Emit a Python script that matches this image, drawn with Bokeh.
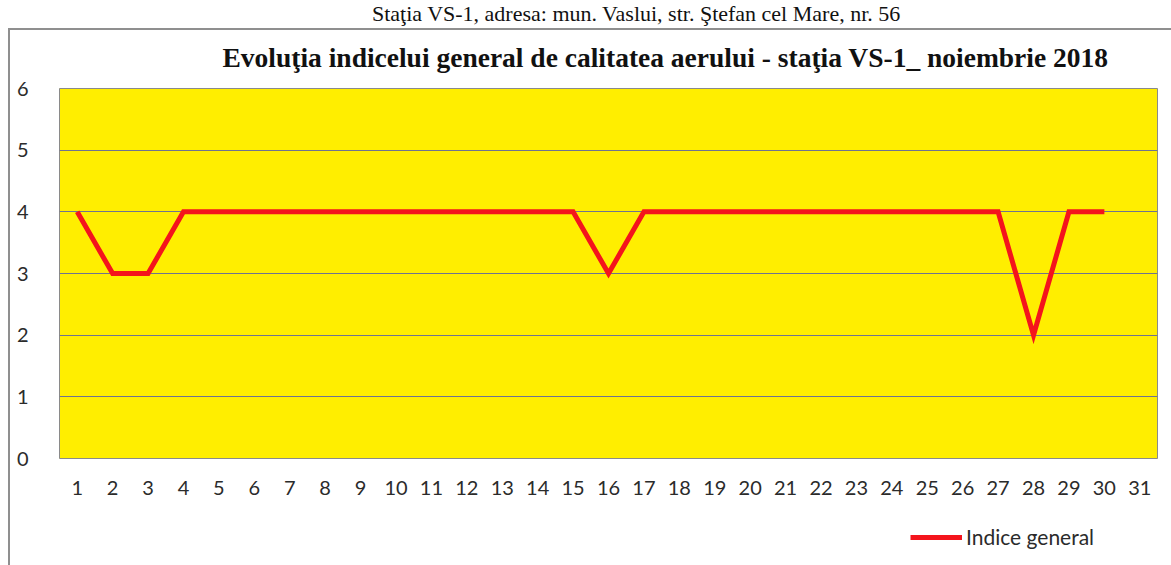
from bokeh.plotting import figure
from bokeh.models import (FactorRange, Range1d, Legend, LegendItem, FixedTicker, Label)
from bokeh.layouts import column
from bokeh.embed import file_html
from bokeh.resources import INLINE

# ---- data ----
days = [str(d) for d in range(1, 32)]
measured_days = [str(d) for d in range(1, 31)]
indice_general = [4, 3, 3, 4, 4, 4, 4, 4, 4, 4, 4, 4, 4, 4, 4,
                  3, 4, 4, 4, 4, 4, 4, 4, 4, 4, 4, 4, 2, 4, 4]
y_ticks = [0, 1, 2, 3, 4, 5, 6]
title_text = "Evoluţia indicelui  general de calitatea aerului - staţia VS-1_ noiembrie 2018"
top_text = "Staţia VS-1, adresa: mun. Vaslui, str. Ştefan cel Mare, nr. 56"
legend_label = "Indice general"

W = 1171
FL, FR = 59, 1157          # plot-area left / right (px)
H_TOP, H_MAIN, H_LEG = 74, 441, 50
SERIF = "Liberation Serif"
SANS = "Lato"
INK = "#2b2b2b"
RED = "#F4141C"

x_days = FactorRange(*days, range_padding=0)

# ---- header strip: address line + chart title ----
p0 = figure(frame_width=FR - FL, frame_height=H_TOP, output_backend="svg",
            toolbar_location=None, x_axis_type=None, y_axis_type=None,
            min_border_left=FL, min_border_right=W - FR,
            min_border_top=0, min_border_bottom=0,
            x_range=Range1d(FL, FR), y_range=Range1d(H_TOP, 0))
p0.outline_line_color = None
p0.background_fill_alpha = 0
p0.border_fill_alpha = 0
p0.add_layout(Label(x=636, y=13, text=top_text, text_align="center",
                    text_baseline="alphabetic", text_font=SERIF,
                    text_font_size="22px", text_color="#111111"))
p0.add_layout(Label(x=222, y=57, text=title_text, text_align="left",
                    text_baseline="alphabetic", text_font=SERIF,
                    text_font_style="bold", text_font_size="27.5px",
                    text_color="#111111"))

# ---- main chart ----
p = figure(width=W, height=H_MAIN, output_backend="svg", toolbar_location=None,
           x_range=x_days, y_range=Range1d(0, 6),
           min_border_left=FL, min_border_right=W - FR,
           min_border_top=14, min_border_bottom=H_MAIN - 14 - 370)
p.border_fill_alpha = 0
p.background_fill_color = "#FFEE00"
p.outline_line_color = "#8a8a8a"
p.outline_line_width = 1

p.xgrid.grid_line_color = None
p.ygrid.grid_line_color = "#6f7390"
p.ygrid.grid_line_width = 1
p.yaxis.ticker = FixedTicker(ticks=y_ticks)

for ax in (p.xaxis, p.yaxis):
    ax.axis_line_color = None
    ax.major_tick_line_color = None
    ax.minor_tick_line_color = None
    ax.major_tick_out = 0
    ax.major_tick_in = 0
    ax.major_label_text_font = SANS
    ax.major_label_text_font_size = "20px"
    ax.major_label_text_color = INK
p.yaxis.major_label_standoff = 31
p.xaxis.major_label_standoff = 22

p.line(measured_days, indice_general, line_color=RED, line_width=5,
       line_join="miter")

# ---- legend strip under the chart (same series; its values lie outside this strip's view) ----
p2 = figure(frame_width=FR - FL, frame_height=H_LEG, output_backend="svg",
            toolbar_location=None, x_axis_type=None, y_axis_type=None,
            min_border_left=FL, min_border_right=W - FR,
            min_border_top=0, min_border_bottom=0,
            x_range=x_days, y_range=Range1d(10, 11))
p2.outline_line_color = None
p2.background_fill_alpha = 0
p2.border_fill_alpha = 0
sample = p2.line(measured_days, indice_general, line_color=RED, line_width=5)
p2.add_layout(Legend(items=[LegendItem(label=legend_label, renderers=[sample])],
                     location=(910 - FL, 16), orientation="horizontal",
                     glyph_width=52, glyph_height=24, label_standoff=4,
                     padding=0, margin=0, border_line_color=None,
                     background_fill_alpha=0,
                     label_text_font=SANS, label_text_font_size="21px",
                     label_text_color=INK))

layout = column(p0, p, p2, spacing=0, styles={
    "background-image": "linear-gradient(#8f8f8f, #8f8f8f), linear-gradient(#8f8f8f, #8f8f8f)",
    "background-size": "2px 537px, 1163px 2px",
    "background-position": "8px 28px, 8px 28px",
    "background-repeat": "no-repeat",
})

open("out.html", "w").write(file_html(layout, INLINE))
